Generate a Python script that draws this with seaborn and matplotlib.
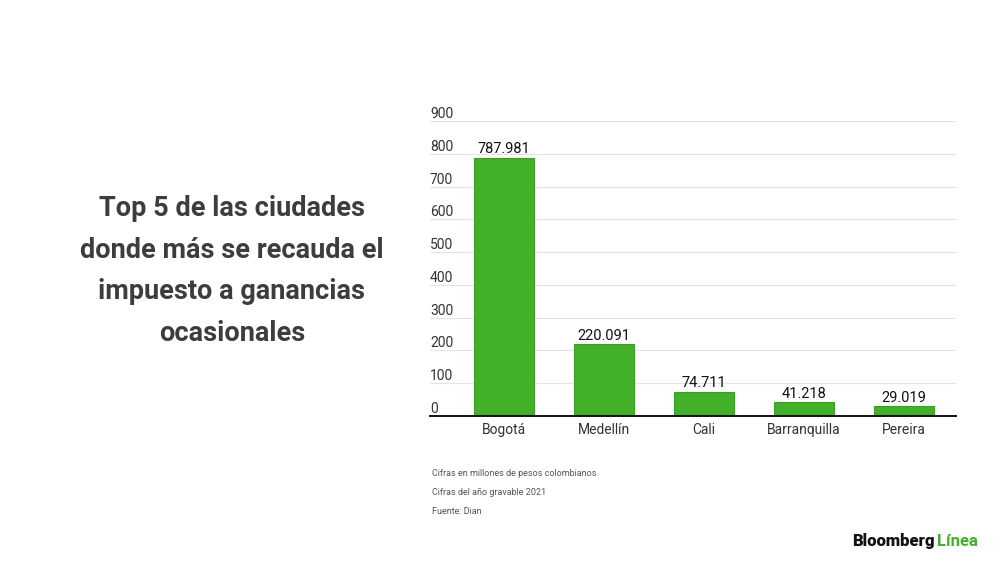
import numpy as np
import pandas as pd
import seaborn as sns
import matplotlib.pyplot as plt
from matplotlib import transforms

# data
ciudades = ["Bogotá", "Medellín", "Cali", "Barranquilla", "Pereira"]
valores = [787.981, 220.091, 74.711, 41.218, 29.019]
etiquetas = ["787.981", "220.091", "74.711", "41.218", "29.019"]
y_ticks = [0, 100, 200, 300, 400, 500, 600, 700, 800, 900]

titulo = "Top 5 de las ciudades\ndonde más se recauda el\nimpuesto a ganancias\nocasionales"
notas = ["Cifras en millones de pesos colombianos",
         "Cifras del año gravable 2021",
         "Fuente: Dian"]

verde = "#43b02a"

sns.set_theme(style="white")
plt.rcParams['font.family'] = ['Roboto', 'DejaVu Sans']

df = pd.DataFrame({"ciudad": ciudades, "valor": valores})

fig = plt.figure(figsize=(10, 5.62), dpi=100)
ax = fig.add_axes([0.43, 0.2598, 0.526, 0.5249])

sns.barplot(data=df, x="ciudad", y="valor", color=verde, saturation=1,
            width=0.6, edgecolor="#3d9e27", linewidth=0.8, ax=ax, zorder=3)

ax.set_xlim(-0.74, 4.52)
ax.set_ylim(0, 900)
ax.set_yticks(y_ticks)
ax.set_yticklabels([])
ax.yaxis.grid(True, color="#e3e3e3", linewidth=0.8, zorder=0)
ax.tick_params(axis="y", length=0)
ax.tick_params(axis="x", length=0, pad=5, labelsize=10, labelcolor="#333333")
ax.set_xlabel("")
ax.set_ylabel("")
for s in ["top", "right", "left"]:
    ax.spines[s].set_visible(False)
ax.spines["bottom"].set_color("#111111")
ax.spines["bottom"].set_linewidth(1.4)
ax.spines["bottom"].set_zorder(4)

# y labels sit on top of the gridlines, at the left edge
trans = transforms.blended_transform_factory(ax.transAxes, ax.transData)
for v in y_ticks:
    ax.text(0.0, v, str(v), transform=trans, ha="left", va="bottom",
            fontsize=10, color="#333333")

# value labels
for i, (v, lab) in enumerate(zip(valores, etiquetas)):
    ax.text(i, v + 4, lab, ha="center", va="bottom", fontsize=10.5, color="#111111")

fig.text(0.232, 0.518, titulo, ha="center", va="center", fontsize=19.5,
         fontweight="bold", color="#3d3d3d", linespacing=1.69)

for k, n in enumerate(notas):
    fig.text(0.432, 1 - (474 + k * 18.5) / 562, n, ha="left", va="center",
             fontsize=6.5, color="#555555")

fig.text(0.852, 1 - 541 / 562, "Bloomberg", ha="left", va="center",
         fontsize=12, fontweight="black", color="#111111")
fig.text(0.937, 1 - 541 / 562, "Línea", ha="left", va="center",
         fontsize=12, fontweight="bold", color=verde)

fig.savefig("out.png", dpi=100, facecolor="white")
